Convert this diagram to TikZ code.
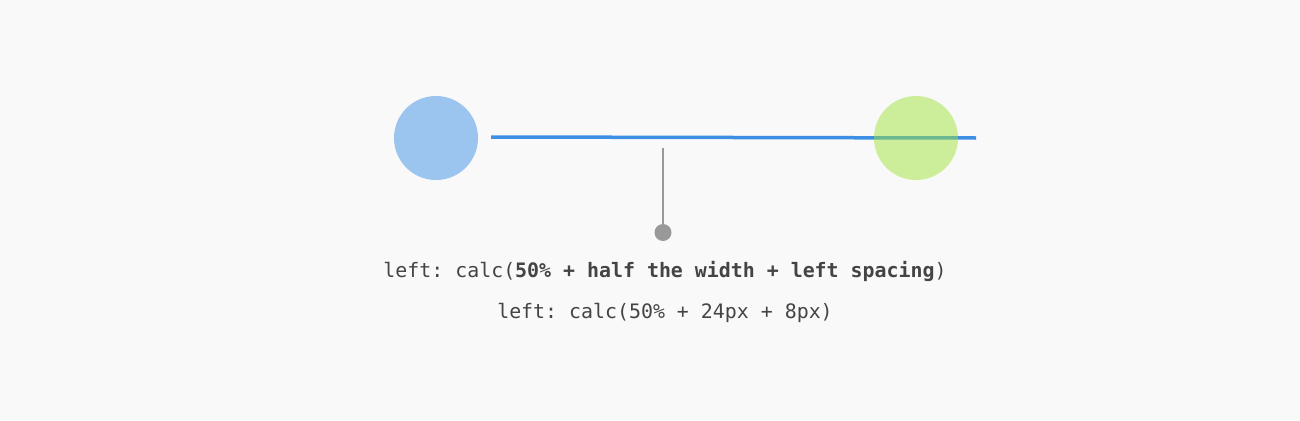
\documentclass[tikz,border=0pt]{standalone}
\usepackage{fontspec}
\setmonofont{DejaVu Sans Mono}
\definecolor{bgc}{HTML}{F9F9F9}
\definecolor{bluec}{HTML}{9BC4EF}
\definecolor{greenc}{HTML}{9DE433}
\definecolor{linec}{HTML}{3D8FE6}
\definecolor{grayc}{HTML}{999999}
\definecolor{textc}{HTML}{444444}
\tikzset{
  dotcircle/.style={circle, minimum size=84pt, inner sep=0pt},
  codetext/.style={text=textc, font=\ttfamily\fontsize{19.9}{24}\selectfont, inner sep=0pt, anchor=center}
}
\begin{document}
\begin{tikzpicture}[x=1pt,y=-1pt]
\fill[bgc] (0,0) rectangle (1300,420);
\useasboundingbox (0,0) rectangle (1300,420);
\node[dotcircle, fill=bluec] (blue) at (436,138) {};
\coordinate (ls) at (491,137);
\coordinate (le) at (976,138);
\draw[linec, line width=3.5pt] (ls) -- (le);
\node[dotcircle, fill=greenc, fill opacity=0.48] (green) at (916,138) {};
\node[circle, fill=grayc, minimum size=17pt, inner sep=0pt] (dot) at (663,232.5) {};
\coordinate (top) at (663,148);
\draw[grayc, line width=2pt] (top) -- (dot.center);
\node[codetext] (t1) at (665,271) {left: calc(\textbf{50\% + half the width + left spacing})};
\node[codetext] (t2) at (665,313) {left: calc(50\% + 24px + 8px)};
\end{tikzpicture}
\end{document}
